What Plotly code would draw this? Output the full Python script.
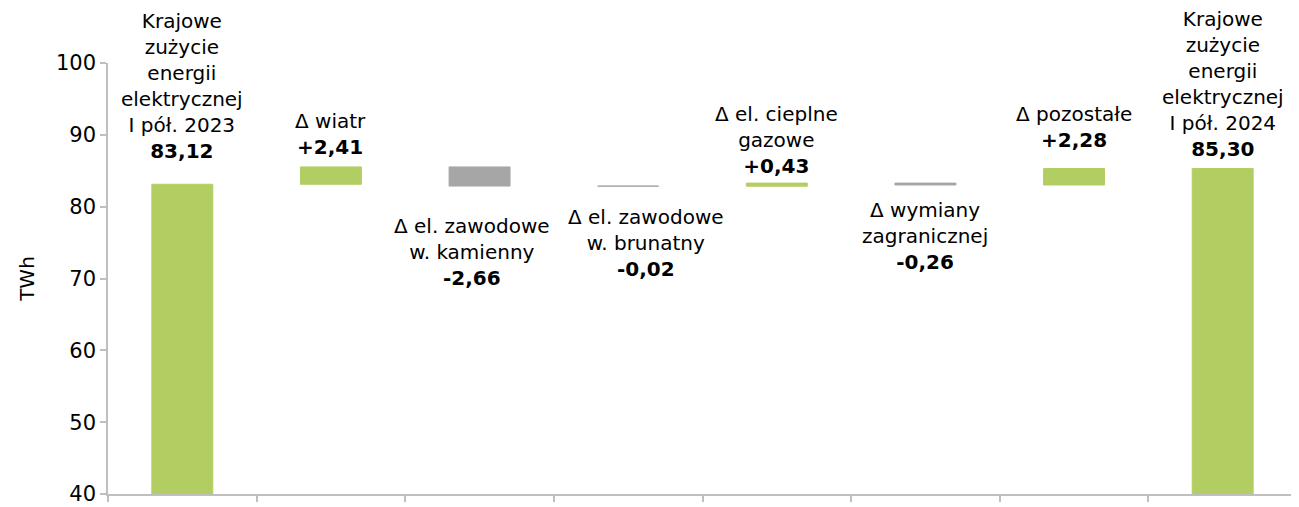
import plotly.graph_objects as go

categories = [
    "Krajowe<br>zużycie<br>energii<br>elektrycznej<br>I pół. 2023",
    "Δ wiatr",
    "Δ el. zawodowe<br>w. kamienny",
    "Δ el. zawodowe<br>w. brunatny",
    "Δ el. cieplne<br>gazowe",
    "Δ wymiany<br>zagranicznej",
    "Δ pozostałe",
    "Krajowe<br>zużycie<br>energii<br>elektrycznej<br>I pół. 2024",
]
values = [83.12, 2.41, -2.66, -0.02, 0.43, -0.26, 2.28, 85.30]
measures = ["absolute", "relative", "relative", "relative", "relative", "relative", "relative", "total"]
value_labels = ["83,12", "+2,41", "-2,66", "-0,02", "+0,43", "-0,26", "+2,28", "85,30"]

GREEN = "#B2CE62"
GRAY = "#A6A6A6"
AXIS = "#BFBFBF"
FONT = "Verdana, DejaVu Sans, sans-serif"

# label nudges in pixels (layout only, not data)
label_xshift = [0, 0, -8, 18, 0, 0, 0, 0]
label_yshift = [19, 6, -26, -17, 3, -11, 15, 6]

xkeys = [f"c{i}" for i in range(len(categories))]

fig = go.Figure(go.Waterfall(
    x=xkeys,
    y=values,
    measure=measures,
    width=0.41,
    increasing=dict(marker=dict(color=GREEN, line=dict(color=GREEN, width=1))),
    decreasing=dict(marker=dict(color=GRAY, line=dict(color=GRAY, width=1))),
    totals=dict(marker=dict(color=GREEN, line=dict(color=GREEN, width=1))),
    connector=dict(visible=False),
    textinfo="none",
    hoverinfo="skip",
))

running = 0.0
for i, (v, m) in enumerate(zip(values, measures)):
    if m == "absolute":
        lo, hi = 0.0, v
        running = v
    elif m == "total":
        lo, hi = 0.0, running
    else:
        start = running
        running = running + v
        lo, hi = min(start, running), max(start, running)
    text = f"{categories[i]}<br><b>{value_labels[i]}</b>"
    above = (m != "relative" or v >= 0)
    fig.add_annotation(x=xkeys[i], y=hi if above else lo, text=text, showarrow=False,
                       yanchor="bottom" if above else "top",
                       yshift=label_yshift[i], xshift=label_xshift[i], xanchor="center",
                       font=dict(family=FONT, size=20, color="#000000"))

fig.update_layout(
    width=1299, height=507,
    margin=dict(l=100, r=10, t=55, b=21),
    paper_bgcolor="white", plot_bgcolor="white",
    showlegend=False,
    font=dict(family=FONT, color="#000000"),
)
fig.update_yaxes(
    range=[40, 100], dtick=10, tick0=40,
    showgrid=False, zeroline=False,
    showline=True, linecolor=AXIS, linewidth=1.5,
    ticks="outside", ticklen=6, tickcolor=AXIS, tickwidth=1.5,
    tickfont=dict(family=FONT, size=21, color="#000000"),
    title=dict(text="TWh", font=dict(family=FONT, size=20, color="#000000"), standoff=16),
)
fig.update_xaxes(
    type="category",
    showticklabels=False, showgrid=False, zeroline=False,
    showline=True, linecolor=AXIS, linewidth=1.5,
    ticks="outside", ticklen=6, tickcolor=AXIS, tickwidth=1.5,
    tickson="boundaries",
    range=[-0.5, len(xkeys) - 0.5],
)

fig.write_html("out.html")
